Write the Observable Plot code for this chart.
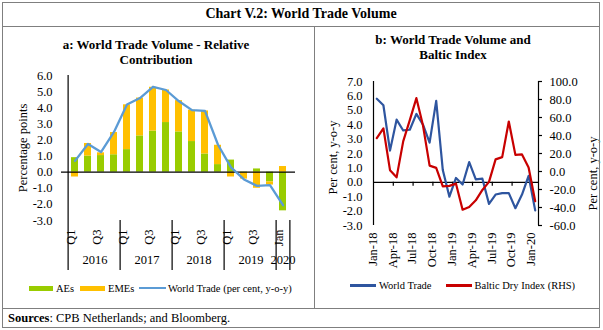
<!DOCTYPE html>
<html><head><meta charset="utf-8">
<script src="https://cdn.jsdelivr.net/npm/d3@7"></script>
<script src="https://cdn.jsdelivr.net/npm/@observablehq/plot@0.6"></script>
<style>
body{margin:0;background:#fff;font-family:"Liberation Serif","Times New Roman",serif;color:#000;}
#wrap{position:relative;width:603px;height:330px;overflow:hidden;background:#fff;}
.t{position:absolute;white-space:nowrap;color:#000;}
.ln{position:absolute;background:#7f7f7f;}
.sw{position:absolute;}
svg{position:absolute;top:0;}
</style></head><body><div id="wrap"></div>
<script>
// ---------- Panel a data ----------
const years = ["2016","2017","2018","2019","2020"];
const periodYears = ["2016","2016","2016","2016","2017","2017","2017","2017","2018","2018","2018","2018","2019","2019","2019","2019","2020"];
const periodLabels = ["Q1","Q2","Q3","Q4","Q1","Q2","Q3","Q4","Q1","Q2","Q3","Q4","Q1","Q2","Q3","Q4","Jan"];
const aes  = [0.9, 1.0, 1.03, 1.08, 1.4, 2.25, 2.55, 3.08, 2.5, 1.9, 1.13, 0.47, 0.75, -0.05, 0.2, -0.6, -2.4];
const emes = [-0.3, 0.78, 0.17, 1.38, 2.78, 2.35, 2.72, 2.02, 1.94, 1.95, 2.67, 1.2, -0.3, -0.38, -1.0, -0.2, 0.35];
const worldTradeQ = [0.7, 1.75, 1.25, 2.5, 4.2, 4.6, 5.3, 5.1, 4.4, 3.85, 3.8, 1.7, 0.3, -0.45, -0.85, -0.8, -2.05];
const yTicksA = [-3, -2, -1, 0, 1, 2, 3, 4, 5, 6];

// ---------- Panel b data ----------
const months = ["Jan-18","Feb-18","Mar-18","Apr-18","May-18","Jun-18","Jul-18","Aug-18","Sep-18","Oct-18","Nov-18","Dec-18","Jan-19","Feb-19","Mar-19","Apr-19","May-19","Jun-19","Jul-19","Aug-19","Sep-19","Oct-19","Nov-19","Dec-19","Jan-20"];
const worldTradeM = [5.8, 5.35, 2.2, 4.35, 3.6, 3.65, 4.75, 4.0, 2.75, 5.65, 0.85, -1.0, 0.3, -0.15, 1.4, 0.2, 0.25, -1.5, -0.85, -0.75, -0.75, -1.8, -0.85, 0.45, -1.95];
const balticDry = [37, 48, 1.5, -6.5, 33.5, 57, 81.5, 51, 6.5, 4, -16.5, -16, -13.5, -42.5, -39.5, -32, -20.5, -11.5, 13.5, 16, 55.5, 18.5, 19, 4.5, -33];
const yTicksBLeft = [-3, -2, -1, 0, 1, 2, 3, 4, 5, 6, 7];
const yTicksBRight = [-60, -40, -20, 0, 20, 40, 60, 80, 100];

const FONT = "'Liberation Serif','Times New Roman',serif";
const wrap = document.getElementById("wrap");

// ---------- Panel a ----------
const cats = periodLabels.map((q, i) => periodYears[i] + " " + q);
const bars = [];
cats.forEach((c, i) => { bars.push({c, s: "AEs", v: aes[i]}); bars.push({c, s: "EMEs", v: emes[i]}); });
const lineA = cats.map((c, i) => ({c, v: worldTradeQ[i]}));
const W1 = 314, H1 = 308, ml1 = 61, mr1 = 19, mt1 = 75, mb1 = 88;
const step1 = (W1 - ml1 - mr1) / cats.length;
const plotH1 = H1 - mt1 - mb1;
const yearStarts = cats.filter((c, i) => i === 0 || periodYears[i] !== periodYears[i - 1]);
const yearInfo = years.map(y => {
  const idx = cats.map((c, i) => i).filter(i => periodYears[i] === y);
  return {y, c: cats[idx[Math.floor((idx.length - 1) / 2)]], even: idx.length % 2 === 0};
});
const tickCatsA = cats.filter((c, i) => i % 2 === 0);

const chartA = Plot.plot({
  width: W1, height: H1, marginLeft: ml1, marginRight: mr1, marginTop: mt1, marginBottom: mb1,
  style: {background: "transparent", overflow: "visible", fontFamily: FONT, fontSize: "12.5px", color: "#000"},
  x: {type: "band", domain: cats, paddingInner: 0.5, paddingOuter: 0.25, axis: null},
  y: {domain: [-3, 6], axis: null},
  color: {domain: ["AEs", "EMEs"], range: ["#99CC00", "#FFC000"]},
  marks: [
    Plot.barY(bars, {x: "c", y: "v", fill: "s"}),
    Plot.ruleY([0], {stroke: "#000", strokeWidth: 1.2}),
    Plot.line(lineA, {x: "c", y: "v", stroke: "#5B9BD5", strokeWidth: 2.3}),
    Plot.ruleX([cats[0]], {x: d => d, dx: -step1 / 2, stroke: "#000", strokeWidth: 1.2, insetBottom: -50}),
    Plot.ruleX(yearStarts.slice(1), {x: d => d, dx: -step1 / 2, stroke: "#000", strokeWidth: 1.2, insetTop: plotH1, insetBottom: -50}),
    Plot.ruleX([cats[cats.length - 1]], {x: d => d, dx: step1 / 2, stroke: "#000", strokeWidth: 1.2, insetTop: plotH1, insetBottom: -50}),
    Plot.text(yTicksA, {y: d => d, text: d => d.toFixed(1), frameAnchor: "left", textAnchor: "end", dx: -9, fontSize: 12.5, fill: "#000"}),
    Plot.text(["Percentage points"], {frameAnchor: "left", textAnchor: "middle", rotate: -90, dx: -39, text: d => d, fontSize: 12.5, fill: "#000"}),
    Plot.text(tickCatsA, {x: d => d, text: d => periodLabels[cats.indexOf(d)], rotate: -90, textAnchor: "end", frameAnchor: "bottom", dy: 9, fontSize: 12.5, fill: "#000"}),
    Plot.text(yearInfo.filter(d => d.even), {x: "c", text: "y", frameAnchor: "bottom", textAnchor: "middle", dy: 43, dx: step1 / 2, fontSize: 12.5, fill: "#000"}),
    Plot.text(yearInfo.filter(d => !d.even), {x: "c", text: "y", frameAnchor: "bottom", textAnchor: "middle", dy: 43, fontSize: 12.5, fill: "#000"})
  ]
});
chartA.style.left = "0px";
wrap.appendChild(chartA);

// ---------- Panel b ----------
const W2 = 289, H2 = 308, ml2 = 59, mr2 = 65, mt2 = 81, mb2 = 83;
const [lMin, lMax] = [yTicksBLeft[0], yTicksBLeft[yTicksBLeft.length - 1]];
const [rMin, rMax] = [yTicksBRight[0], yTicksBRight[yTicksBRight.length - 1]];
const toLeft = v => lMin + (v - rMin) * (lMax - lMin) / (rMax - rMin);
const n = months.length;
const labelIdx = months.map((m, i) => i).filter(i => i % 3 === 0);
const tickIdx = labelIdx.filter(i => i > 0);

const chartB = Plot.plot({
  width: W2, height: H2, marginLeft: ml2, marginRight: mr2, marginTop: mt2, marginBottom: mb2,
  style: {background: "transparent", overflow: "visible", fontFamily: FONT, fontSize: "12.5px", color: "#000"},
  x: {domain: [-0.5, n - 0.5], axis: null},
  y: {domain: [lMin, lMax], axis: null},
  marks: [
    Plot.ruleY([0], {stroke: "#000", strokeWidth: 1.2}),
    Plot.ruleX(tickIdx, {x: d => d - 0.5, y1: 0, y2: 0, insetBottom: -4, stroke: "#000", strokeWidth: 1.2}),
    Plot.ruleX([-0.5, n - 0.5], {x: d => d, stroke: "#000", strokeWidth: 1.2}),
    Plot.ruleY(yTicksBRight, {y: d => toLeft(d), x1: n - 0.5, x2: n - 0.5, insetRight: -4, stroke: "#000", strokeWidth: 1.2}),
    Plot.line(worldTradeM, {x: (d, i) => i, y: d => d, stroke: "#2E559F", strokeWidth: 2.2}),
    Plot.line(balticDry, {x: (d, i) => i, y: d => toLeft(d), stroke: "#C80000", strokeWidth: 2.2}),
    Plot.text(yTicksBLeft, {y: d => d, text: d => d.toFixed(1), frameAnchor: "left", textAnchor: "end", dx: -11, fontSize: 12.5, fill: "#000"}),
    Plot.text(yTicksBRight, {y: d => toLeft(d), text: d => d.toFixed(1), frameAnchor: "right", textAnchor: "start", dx: 11, fontSize: 12.5, fill: "#000"}),
    Plot.text(["Per cent, y-o-y"], {frameAnchor: "left", textAnchor: "middle", rotate: -90, dx: -41, dy: 4, text: d => d, fontSize: 12.5, fill: "#000"}),
    Plot.text(["Per cent, y-o-y"], {frameAnchor: "right", textAnchor: "middle", rotate: -90, dx: 54, dy: 20, text: d => d, fontSize: 12.5, fill: "#000"}),
    Plot.text(labelIdx, {x: d => d, text: d => months[d], rotate: -90, textAnchor: "end", frameAnchor: "bottom", dy: 7, fontSize: 12.5, fill: "#000"})
  ]
});
chartB.style.left = "314px";
wrap.appendChild(chartB);

// ---------- HTML text, legends, borders ----------
function txt(s, x, yc, size, opts = {}) {
  const d = document.createElement("div");
  d.className = "t";
  d.innerHTML = s;
  const lh = Math.round(size * 1.25);
  d.style.fontSize = size + "px";
  d.style.lineHeight = lh + "px";
  d.style.top = (yc - lh / 2) + "px";
  if (opts.center) { d.style.left = (x - 200) + "px"; d.style.width = "400px"; d.style.textAlign = "center"; }
  else d.style.left = x + "px";
  if (opts.bold) d.style.fontWeight = "bold";
  wrap.appendChild(d);
}
function box(cls, x, y, w, h, color) {
  const d = document.createElement("div");
  d.className = cls;
  Object.assign(d.style, {left: x + "px", top: y + "px", width: w + "px", height: h + "px"});
  if (color) d.style.background = color;
  wrap.appendChild(d);
}
txt("Chart V.2: World Trade Volume", 301, 14, 14, {center: true, bold: true});
txt("a: World Trade Volume - Relative", 156, 45, 13, {center: true, bold: true});
txt("Contribution", 156, 60, 13, {center: true, bold: true});
txt("b: World Trade Volume and", 453, 40, 13, {center: true, bold: true});
txt("Baltic Index", 453, 55, 13, {center: true, bold: true});
txt("<b>Sources</b>: CPB Netherlands; and Bloomberg.", 8, 318, 12.5);

// legend a
box("sw", 29, 285.5, 24, 5, "#99CC00");
txt("AEs", 56, 288, 10.5);
box("sw", 80, 285.5, 25, 5, "#FFC000");
txt("EMEs", 108, 288, 10.5);
box("sw", 139, 287, 27, 2, "#5B9BD5");
txt("World Trade (per cent, y-o-y)", 168, 288, 10.5);
// legend b
box("sw", 350, 284, 26, 2.5, "#2E559F");
txt("World Trade", 379, 285, 10.5);
box("sw", 446, 284, 26, 2.5, "#C80000");
txt("Baltic Dry Index (RHS)", 474.5, 285, 10.5);

// borders
box("ln", 2, 2, 598, 1);
box("ln", 2, 327, 598, 1);
box("ln", 2, 2, 1, 326);
box("ln", 599, 2, 1, 326);
box("ln", 2, 26, 598, 1);
box("ln", 2, 308, 598, 1);
box("ln", 314, 26, 1, 282);
</script></body></html>
